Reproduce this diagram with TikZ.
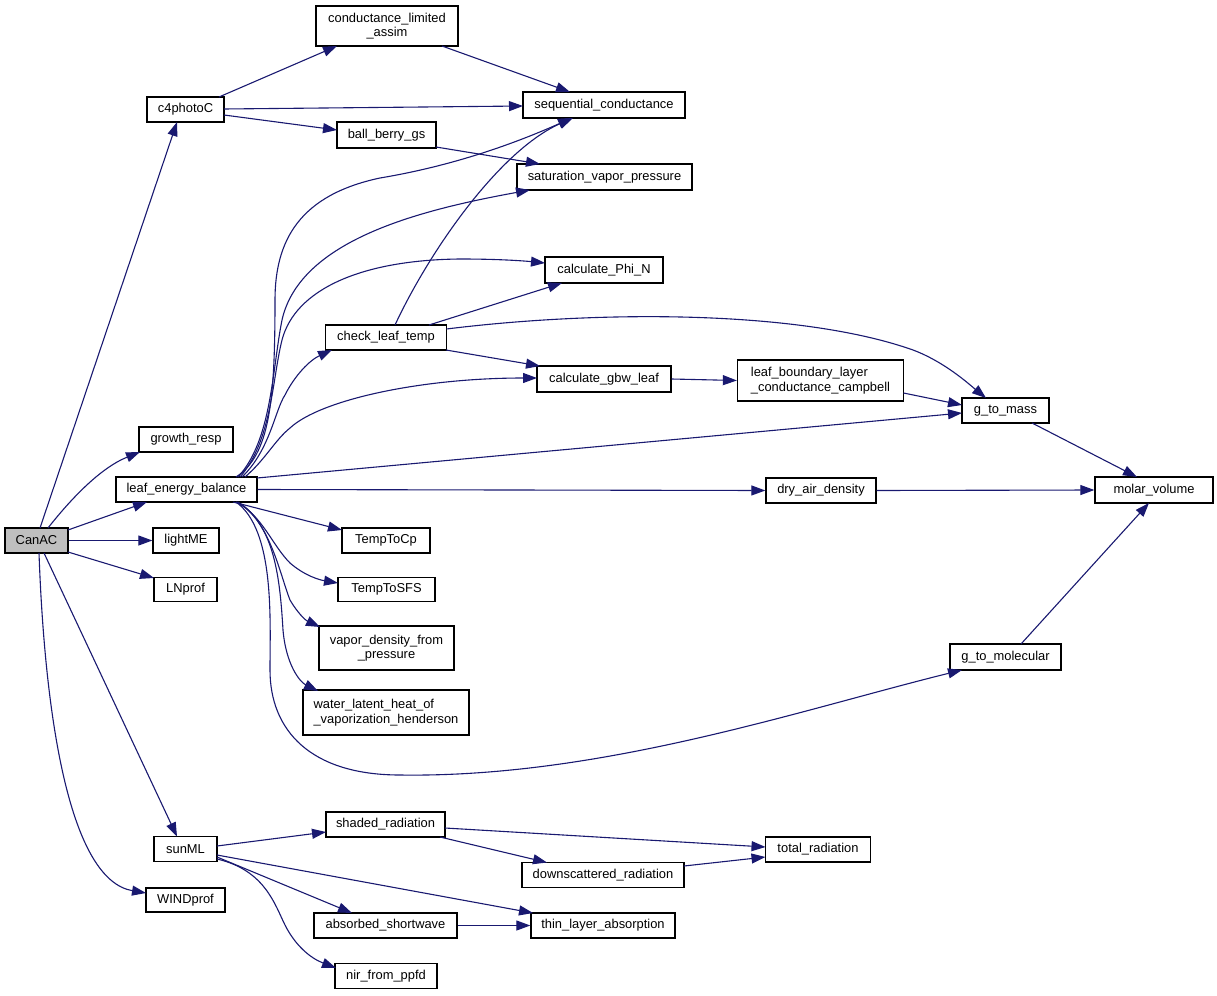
\documentclass[tikz,border=0pt]{standalone}
\usepackage{fontspec}
\setmainfont{Liberation Sans}
\usetikzlibrary{calc,arrows.meta}
\definecolor{edgec}{RGB}{25,25,112}
\definecolor{rootfill}{RGB}{191,191,191}
\begin{document}
\begin{tikzpicture}[x=1pt,y=-1pt,
 box/.style={draw=black,line width=1.3pt,fill=white,inner sep=0pt,font=\fontsize{12.9}{14.5}\selectfont,align=center},
 rootbox/.style={box,fill=rootfill},
 edge/.style={draw=edgec,line width=1.1pt,-{Triangle[length=14pt,width=10pt]}}]
\useasboundingbox (0,0) rectangle (1217,995);

% nodes
\node[rootbox,minimum width=63pt,minimum height=25pt] (CanAC) at (36.5,540.5) {CanAC};
\node[box,minimum width=77pt,minimum height=25pt] (c4) at (185.5,109.5) {c4photoC};
\node[box,minimum width=142pt,minimum height=40pt] (cla) at (387,26) {conductance\_limited\\\_assim};
\node[box,minimum width=162pt,minimum height=26pt] (seq) at (604,105) {sequential\_conductance};
\node[box,minimum width=99pt,minimum height=26pt] (bbg) at (386.5,135) {ball\_berry\_gs};
\node[box,minimum width=175pt,minimum height=26pt] (svp) at (604.5,177) {saturation\_vapor\_pressure};
\node[box,minimum width=118pt,minimum height=26pt] (phin) at (604,270) {calculate\_Phi\_N};
\node[box,minimum width=121pt,minimum height=25pt] (clt) at (386,337.5) {check\_leaf\_temp};
\node[box,minimum width=134pt,minimum height=26pt] (gbw) at (604,379) {calculate\_gbw\_leaf};
\node[box,align=left,minimum width=166pt,minimum height=41pt] (lbl) at (820.5,380.5) {leaf\_boundary\_layer\\\_conductance\_campbell};
\node[box,minimum width=87pt,minimum height=25pt] (gtm) at (1005.5,410.5) {g\_to\_mass};
\node[box,minimum width=94pt,minimum height=25pt] (gr) at (186,439.5) {growth\_resp};
\node[box,minimum width=141pt,minimum height=25pt] (leb) at (186.5,489.5) {leaf\_energy\_balance};
\node[box,minimum width=110pt,minimum height=25pt] (dad) at (821,490.5) {dry\_air\_density};
\node[box,minimum width=118pt,minimum height=26pt] (mv) at (1154,490) {molar\_volume};
\node[box,minimum width=66pt,minimum height=25pt] (lme) at (186,540.5) {lightME};
\node[box,minimum width=63pt,minimum height=24pt] (lnp) at (185.5,589.5) {LNprof};
\node[box,minimum width=88pt,minimum height=25pt] (tcp) at (386,540.5) {TempToCp};
\node[box,minimum width=97pt,minimum height=24pt] (tsfs) at (386.5,589.5) {TempToSFS};
\node[box,minimum width=135pt,minimum height=44pt] (vdp) at (386.5,648) {vapor\_density\_from\\\_pressure};
\node[box,align=left,minimum width=166pt,minimum height=45pt] (wlh) at (386,712.5) {water\_latent\_heat\_of\\\_vaporization\_henderson};
\node[box,minimum width=111pt,minimum height=26pt] (gtmol) at (1005.5,657) {g\_to\_molecular};
\node[box,minimum width=63pt,minimum height=25pt] (sun) at (185.5,849) {sunML};
\node[box,minimum width=79pt,minimum height=24pt] (wind) at (185.5,900) {WINDprof};
\node[box,minimum width=119pt,minimum height=25pt] (shr) at (385.5,824.5) {shaded\_radiation};
\node[box,minimum width=105pt,minimum height=25pt] (tot) at (818,849.5) {total\_radiation};
\node[box,minimum width=162pt,minimum height=25pt] (dsr) at (603,875) {downscattered\_radiation};
\node[box,minimum width=143pt,minimum height=25pt] (abs) at (385.5,925.5) {absorbed\_shortwave};
\node[box,minimum width=144pt,minimum height=25pt] (thin) at (603,925.5) {thin\_layer\_absorption};
\node[box,minimum width=102pt,minimum height=25pt] (nir) at (386,976) {nir\_from\_ppfd};

% edges from CanAC
\draw[edge] ($(CanAC)+(3.5,-12.5)$) -- ($(c4)+(-8.5,12.5)$);
\draw[edge] ($(CanAC)+(11.5,-12.5)$) .. controls (70,500) and (100,468) .. ($(gr)+(-46,12.5)$);
\draw[edge] ($(CanAC)+(31.5,-10.5)$) -- ($(leb)+(-39.5,12.5)$);
\draw[edge] (CanAC.east) -- (lme.west);
\draw[edge] ($(CanAC)+(31.5,11.5)$) -- ($(lnp)+(-31.5,-11.5)$);
\draw[edge] ($(CanAC)+(7.5,12.5)$) -- ($(sun)+(-8.5,-12.5)$);
\draw[edge] ($(CanAC)+(2.5,12.5)$) .. controls (45,720) and (70,880) .. ($(wind)+(-39.5,-7)$);

% c4photoC
\draw[edge] ($(c4)+(33.5,-12.5)$) -- ($(cla)+(-50,20)$);
\draw[edge] ($(c4)+(38.5,-0.5)$) -- ($(seq)+(-81,1)$);
\draw[edge] ($(c4)+(38.5,5.5)$) -- ($(bbg)+(-49.5,-5)$);
\draw[edge] ($(cla)+(55,20)$) -- ($(seq)+(-34,-13)$);
\draw[edge] ($(bbg)+(49.5,12)$) -- ($(svp)+(-64.5,-13)$);

% leaf_energy_balance upward fan
\draw[edge] ($(leb)+(49.5,-12.5)$) .. controls (270,455) and (275,400) .. (275,300)
  .. controls (275,240) and (300,195) .. (380,178)
  .. controls (440,168) and (500,150) .. ($(seq)+(-32,13)$);
\draw[edge] ($(leb)+(51.5,-12.5)$) .. controls (272,440) and (272,370) .. (282,320)
  .. controls (300,240) and (420,210) .. ($(svp)+(-74.5,13)$);
\draw[edge] ($(leb)+(53.5,-12.5)$) .. controls (272,440) and (272,380) .. (282,340)
  .. controls (295,290) and (360,260) .. (460,259)
  .. controls (500,259) and (525,261) .. ($(phin)+(-59,-7)$);
\draw[edge] ($(leb)+(55.5,-12.5)$) .. controls (270,450) and (275,410) .. (285,395)
  .. controls (295,375) and (310,360) .. ($(clt)+(-54,12.5)$);
\draw[edge] ($(leb)+(58.5,-12.5)$) .. controls (265,460) and (275,440) .. (290,428)
  .. controls (320,400) and (420,378) .. ($(gbw)+(-67,-1)$);
\draw[edge] ($(leb)+(70.5,-11.5)$) -- ($(gtm)+(-43.5,2.5)$);
\draw[edge] (leb.east) -- (dad.west);

% leaf_energy_balance downward fan
\draw[edge] ($(leb)+(46.5,12.5)$) -- ($(tcp)+(-44,-10.5)$);
\draw[edge] ($(leb)+(49.5,12.5)$) .. controls (262,515) and (272,545) .. (290,563)
  .. controls (305,576) and (320,580) .. ($(tsfs)+(-48.5,-6.5)$);
\draw[edge] ($(leb)+(50.5,12.5)$) .. controls (270,520) and (280,575) .. (290,600)
  .. controls (297,612) and (305,620) .. ($(vdp)+(-66.5,-21)$);
\draw[edge] ($(leb)+(51.5,12.5)$) .. controls (275,525) and (280,580) .. (283,630)
  .. controls (286,665) and (300,682) .. ($(wlh)+(-68,-21.5)$);
\draw[edge] ($(leb)+(49.5,12.5)$) .. controls (275,530) and (270,620) .. (270,670)
  .. controls (270,730) and (310,775) .. (400,775)
  .. controls (600,778) and (800,710) .. ($(gtmol)+(-43.5,13)$);

% check_leaf_temp
\draw[edge] ($(clt)+(9,-12.5)$) .. controls (430,250) and (500,150) .. ($(seq)+(-31,13)$);
\draw[edge] ($(clt)+(43,-12.5)$) -- ($(phin)+(-42,13)$);
\draw[edge] ($(clt)+(60,12.5)$) -- ($(gbw)+(-64,-13)$);
\draw[edge] ($(clt)+(60.5,-8.5)$) .. controls (600,310) and (800,310) .. (913,350)
  .. controls (945,362) and (970,385) .. ($(gtm)+(-19.5,-12.5)$);

% right side
\draw[edge] (gbw.east) -- (lbl.west);
\draw[edge] ($(lbl)+(83,12.5)$) -- ($(gtm)+(-43.5,-5.5)$);
\draw[edge] ($(gtm)+(26.5,12.5)$) -- ($(mv)+(-17,-13)$);
\draw[edge] (dad.east) -- (mv.west);
\draw[edge] ($(gtmol)+(15.5,-13)$) -- ($(mv)+(-5,13)$);

% sunML
\draw[edge] ($(sun)+(31.5,-3)$) -- ($(shr)+(-59.5,7.5)$);
\draw[edge] ($(sun)+(31.5,8)$) -- ($(abs)+(-33.5,-12.5)$);
\draw[edge] ($(sun)+(31.5,6)$) -- ($(thin)+(-70,-12.5)$);
\draw[edge] ($(sun)+(31.5,10)$) .. controls (265,870) and (275,905) .. (285,925)
  .. controls (295,945) and (310,958) .. ($(nir)+(-50,-8)$);
\draw[edge] ($(shr)+(59.5,3.5)$) -- ($(tot)+(-52.5,-2.5)$);
\draw[edge] ($(shr)+(54.5,12.5)$) -- ($(dsr)+(-56,-12.5)$);
\draw[edge] ($(dsr)+(81,-9)$) -- ($(tot)+(-52.5,7.5)$);
\draw[edge] (abs.east) -- (thin.west);
\end{tikzpicture}
\end{document}
